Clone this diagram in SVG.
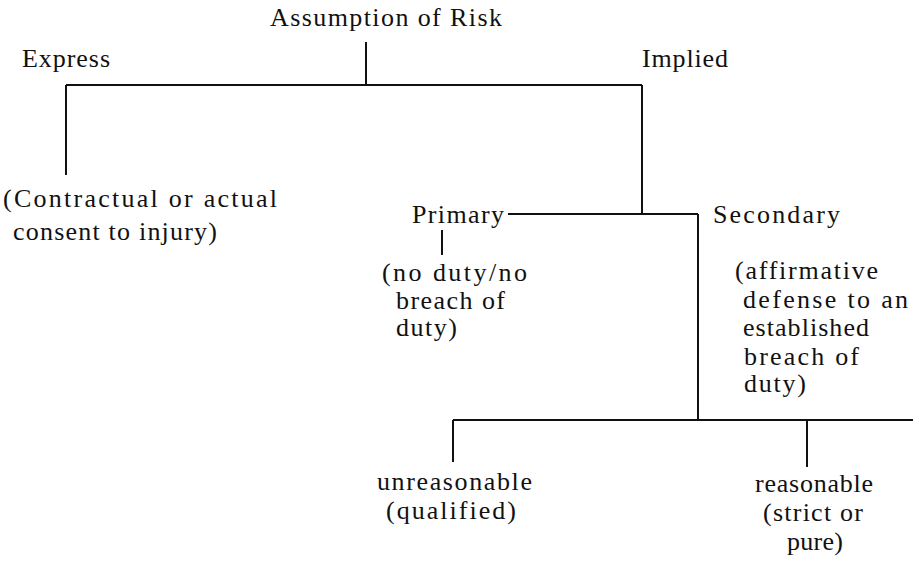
<svg xmlns="http://www.w3.org/2000/svg" width="917" height="563" viewBox="0 0 917 563">
<style>
text{font-family:"Liberation Serif","Times New Roman",serif;font-size:26px;fill:#111}
.ln{stroke:#111;stroke-width:2;fill:none}
</style>
<rect width="917" height="563" fill="#fff"/>
<g id="connectors">
<path class="ln" d="M366 42V85M66 85H642M66 85V175M642 85V214M508 214H698M698 214V420M442 230V255M453 420H913M453 420V462M807 420V467"/>
</g>
<g id="n-root"><text x="270" y="26" textLength="232" lengthAdjust="spacing">Assumption of Risk</text></g>
<g id="n-express"><text x="22" y="67" textLength="88" lengthAdjust="spacing">Express</text></g>
<g id="n-implied"><text x="642" y="67" textLength="86" lengthAdjust="spacing">Implied</text></g>
<g id="n-contract"><text x="3" y="207" textLength="274" lengthAdjust="spacing">(Contractual or actual</text><text x="13" y="240" textLength="204" lengthAdjust="spacing">consent to injury)</text></g>
<g id="n-primary"><text x="412" y="223" textLength="92" lengthAdjust="spacing">Primary</text></g>
<g id="n-noduty"><text x="382" y="281" textLength="145" lengthAdjust="spacing">(no duty/no</text><text x="396" y="309" textLength="109" lengthAdjust="spacing">breach of</text><text x="396" y="336" textLength="61" lengthAdjust="spacing">duty)</text></g>
<g id="n-secondary"><text x="713" y="223" textLength="127" lengthAdjust="spacing">Secondary</text></g>
<g id="n-affirm"><text x="735" y="279" textLength="143" lengthAdjust="spacing">(affirmative</text><text x="743" y="308" textLength="165" lengthAdjust="spacing">defense to an</text><text x="743" y="336" textLength="126" lengthAdjust="spacing">established</text><text x="744" y="365" textLength="115" lengthAdjust="spacing">breach of</text><text x="744" y="392" textLength="62" lengthAdjust="spacing">duty)</text></g>
<g id="n-unreasonable"><text x="377" y="490" textLength="155" lengthAdjust="spacing">unreasonable</text><text x="386" y="519" textLength="130" lengthAdjust="spacing">(qualified)</text></g>
<g id="n-reasonable"><text x="755" y="492" textLength="118" lengthAdjust="spacing">reasonable</text><text x="763" y="521" textLength="100" lengthAdjust="spacing">(strict or</text><text x="787" y="550" textLength="56" lengthAdjust="spacing">pure)</text></g>
</svg>
